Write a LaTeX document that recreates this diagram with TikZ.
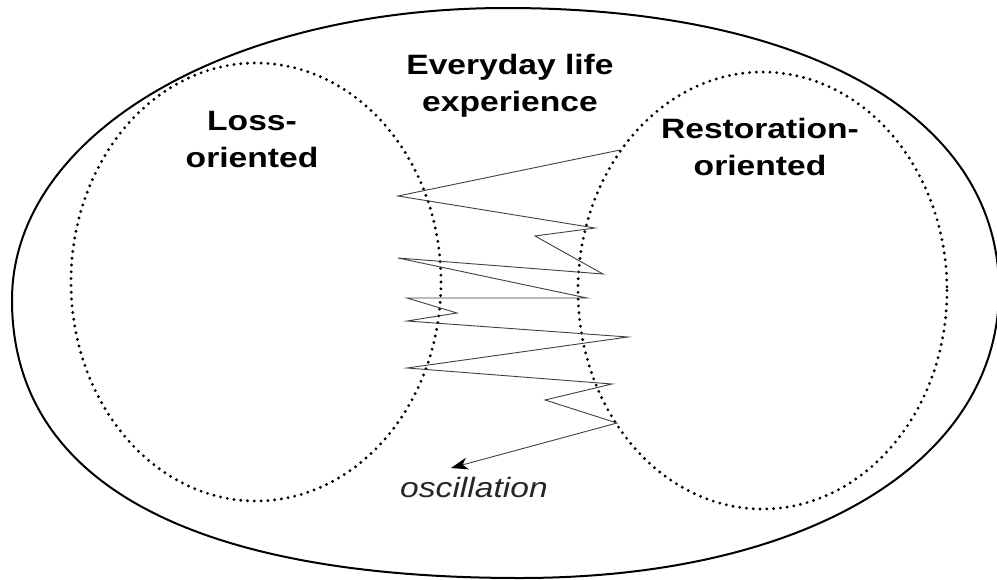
\documentclass[tikz,border=0pt]{standalone}
\usepackage{fontspec}
\setmainfont{Liberation Sans}
\usetikzlibrary{arrows.meta}
\begin{document}
\begin{tikzpicture}[x=1pt,y=-1pt,
  lbl/.style={font=\bfseries\fontsize{28}{34}\selectfont, xscale=1.2, anchor=base, inner sep=0pt},
  osc/.style={font=\itshape\fontsize{28}{34}\selectfont, xscale=1.2, anchor=base, inner sep=0pt, text=black!85},
  dots/.style={line width=3.2pt, dash pattern=on 0pt off 6.8pt, line cap=round},
  outer/.style={line width=2pt},
  zig/.style={line width=0.9pt, draw=black!75}]
\fill[white] (0,0) rectangle (997,579);
\useasboundingbox (0,0) rectangle (997,579);
% outer region
\coordinate (oL) at (12,300);
\coordinate (oT) at (506,8);
\coordinate (oR) at (999,290);
\coordinate (oB) at (520,578);
\draw[outer] (oL) .. controls (12,135) and (227,8) .. (oT)
  .. controls (808,8) and (999,117) .. (oR)
  .. controls (999,462) and (807,578) .. (oB)
  .. controls (189,578) and (12,481) .. (oL) -- cycle;
% dotted regions
\draw[dots] (256,282) ellipse [x radius=185, y radius=219];
\draw[dots] (762.5,290.5) ellipse [x radius=184.5, y radius=218.5];
% labels
\node[lbl] (ev1) at (510,74) {Everyday life};
\node[lbl] (ev2) at (510,111) {experience};
\node[lbl] (lo1) at (252,130) {Loss-};
\node[lbl] (lo2) at (252,167) {oriented};
\node[lbl] (re1) at (760,138) {Restoration-};
\node[lbl] (re2) at (760,175) {oriented};
\node[osc] (osc) at (474,497) {oscillation};
% oscillation path
\coordinate (z1) at (620,150);
\coordinate (z2) at (398,196);
\coordinate (z3) at (595,228);
\coordinate (z4) at (535,236);
\coordinate (z5) at (603,274);
\coordinate (z6) at (398,258);
\coordinate (z7) at (587,298);
\coordinate (z8) at (407,298);
\coordinate (z9) at (457,313);
\coordinate (z10) at (407,321);
\coordinate (z11) at (628,337);
\coordinate (z12) at (407,368);
\coordinate (z13) at (612,384);
\coordinate (z14) at (545,400);
\coordinate (z15) at (617,423);
\coordinate (z16) at (451,468);
\draw[zig, -{Stealth[length=17pt,width=12pt,inset=5pt,color=black,fill=black]}] (z1) -- (z2) -- (z3) -- (z4) -- (z5) -- (z6) -- (z7) -- (z8)
  -- (z9) -- (z10) -- (z11) -- (z12) -- (z13) -- (z14) -- (z15) -- (z16);
\end{tikzpicture}
\end{document}
